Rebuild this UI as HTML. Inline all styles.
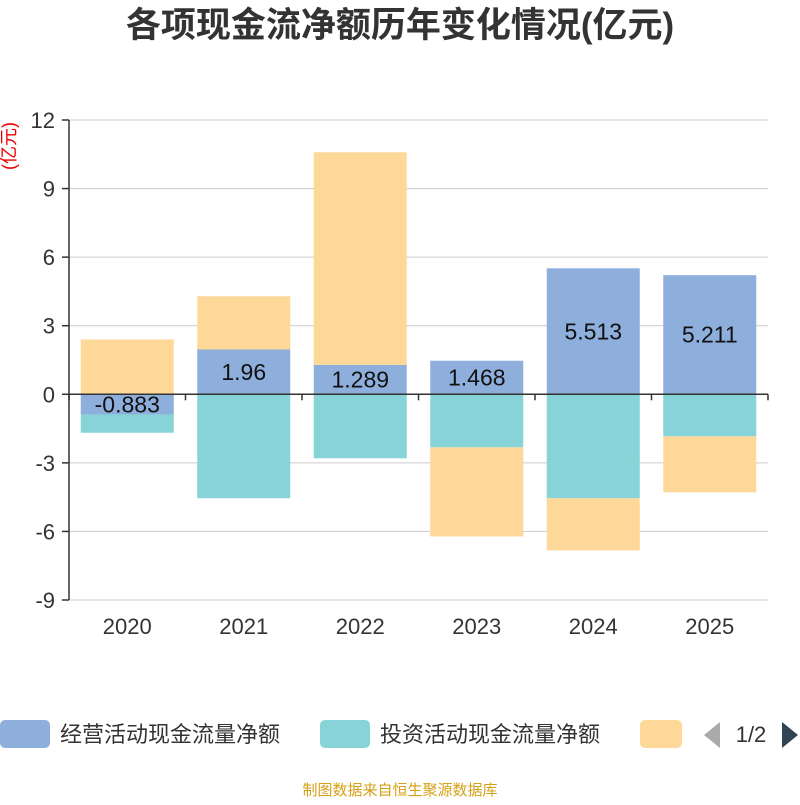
<!DOCTYPE html>
<html><head><meta charset="utf-8"><style>
body{margin:0;background:#fff;}
svg text{font-family:"Liberation Sans","Noto Sans CJK SC",sans-serif;}
</style></head><body>
<svg id="chart" width="800" height="800" xmlns="http://www.w3.org/2000/svg">
<text x="400" y="37" text-anchor="middle" font-size="35" font-weight="bold" fill="#333">各项现金流净额历年变化情况(亿元)</text>
<text transform="translate(15,146) rotate(-90)" text-anchor="middle" font-size="18" fill="#e00">(亿元)</text>
<g id="grid"></g><g id="bars"></g><g id="axes"></g>
<g>
<rect x="0" y="720" width="50" height="28" rx="5" fill="#8eaedb"/>
<text x="60" y="742" font-size="22" fill="#333">经营活动现金流量净额</text>
<rect x="320" y="720" width="50" height="28" rx="5" fill="#86d4d8"/>
<text x="380" y="742" font-size="22" fill="#333">投资活动现金流量净额</text>
<rect x="640" y="720" width="42" height="28" rx="5" fill="#fed899"/>
<polygon points="720,722 720,748 704,735" fill="#aaa"/>
<text x="751" y="742" text-anchor="middle" font-size="22" fill="#333">1/2</text>
<polygon points="782,722 782,748 798,735" fill="#2f4554"/>
</g>
<text x="400" y="795" text-anchor="middle" font-size="15" fill="#d4a017">制图数据来自恒生聚源数据库</text>
</svg>
<script>
const categories=["2020","2021","2022","2023","2024","2025"];
const operating=[-0.883,1.96,1.289,1.468,5.513,5.211];
const investing=[-0.8,-4.55,-2.8,-2.32,-4.55,-1.84];
const financing=[2.4,2.33,9.3,-3.9,-2.28,-2.45];
const yTicks=[12,9,6,3,0,-3,-6,-9];
const NS="http://www.w3.org/2000/svg";
const x0=69,x1=768,yTop=120,yBot=600,vMax=12,vMin=-9;
const y=v=>yTop+(vMax-v)/(vMax-vMin)*(yBot-yTop);
const band=(x1-x0)/categories.length;
const cx=i=>x0+band*(i+0.5);
function mk(t,a,p){const e=document.createElementNS(NS,t);for(const k in a)e.setAttribute(k,a[k]);p.appendChild(e);return e;}
const grid=document.getElementById('grid'),bars=document.getElementById('bars'),axes=document.getElementById('axes');
yTicks.forEach(v=>{
  const l=mk('line',{x1:x0,x2:x1,y1:y(v),y2:y(v),stroke:'#ccc','stroke-width':1},grid);
  
  
  const tk=mk('line',{x1:x0-7,x2:x0,y1:y(v),y2:y(v),stroke:'#333','stroke-width':1.5},axes);
  
  
  const t=mk('text',{x:x0-14,y:y(v)+8,'text-anchor':'end','font-size':22,fill:'#333'},axes);
  t.textContent=v;
  
  
});
const ya=mk('line',{x1:x0,x2:x0,y1:yTop,y2:yBot,stroke:'#333','stroke-width':1.5},axes);


const xa=mk('line',{x1:x0,x2:x1,y1:y(0),y2:y(0),stroke:'#333','stroke-width':1.5},axes);


for(let i=0;i<=categories.length;i++){
  const tk=mk('line',{x1:x0+band*i,x2:x0+band*i,y1:y(0),y2:y(0)+6,stroke:'#333','stroke-width':1.5},axes);
  
  
}
const bw=93;
const series=[{d:operating,c:'#8eaedb',n:'operating'},{d:investing,c:'#86d4d8',n:'investing'},{d:financing,c:'#fed899',n:'financing'}];
categories.forEach((cat,i)=>{
  let pos=0,neg=0;
  series.forEach(s=>{
    const v=s.d[i];let a,b;
    if(v>=0){a=pos;b=pos+v;pos=b;}else{a=neg;b=neg+v;neg=b;}
    const r=mk('rect',{x:cx(i)-bw/2,y:Math.min(y(a),y(b)),width:bw,height:Math.abs(y(a)-y(b)),fill:s.c},bars);
    
    
    if(s.n==='operating'){
      const t=mk('text',{x:cx(i),y:(y(a)+y(b))/2+8,'text-anchor':'middle','font-size':23,fill:'#111'},bars);
      t.textContent=v;
      
      
    }
  });
  const t=mk('text',{x:cx(i),y:634,'text-anchor':'middle','font-size':22,fill:'#333'},axes);
  t.textContent=cat;
  
  
});
</script>
</body></html>
